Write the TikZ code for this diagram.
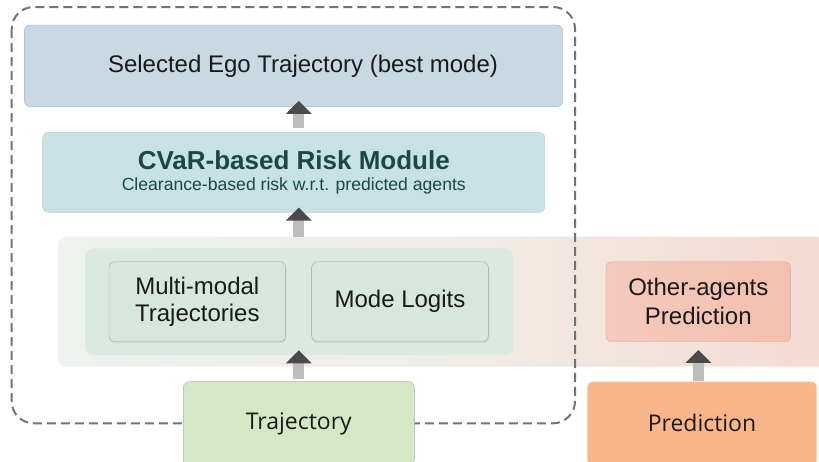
\documentclass[tikz,border=0pt]{standalone}
\usepackage{fontspec}
\setmainfont{Liberation Sans}
\newfontfamily\uifont{Open Sans}
\usepackage[]{tikz}
\usetikzlibrary{positioning}
\usetikzlibrary{arrows.meta}
\usetikzlibrary{shadows}
\definecolor{egoblue}{HTML}{C9D9E3}
\definecolor{egoline}{HTML}{A9B5BF}
\definecolor{riskteal}{HTML}{C8E2E4}
\definecolor{riskline}{HTML}{B3D0D3}
\definecolor{risktext}{HTML}{1C4747}
\definecolor{bandleft}{HTML}{EEF3EF}
\definecolor{bandmid}{HTML}{EFEDE7}
\definecolor{bandright}{HTML}{F6DAD0}
\definecolor{groupgreen}{HTML}{DBE9E0}
\definecolor{modgreen}{HTML}{D6E7DD}
\definecolor{modline}{HTML}{9DA9A1}
\definecolor{agentleft}{HTML}{F4CABD}
\definecolor{agentright}{HTML}{F4BFAE}
\definecolor{agentline}{HTML}{D0ABA2}
\definecolor{trajgreen}{HTML}{D5E8C6}
\definecolor{trajline}{HTML}{A8B7A0}
\definecolor{predorange}{HTML}{FBB58B}
\definecolor{dashgray}{HTML}{6E747C}
\definecolor{shaftgray}{HTML}{BDBDBD}
\definecolor{headgray}{HTML}{4A4A4A}
\tikzset{box/.style={rounded corners=6pt,inner sep=0pt,align=center,text=black!90}}
\tikzset{module/.style={box,draw=modline,fill=modgreen,minimum width=176.7pt,minimum height=80pt,
  font=\fontsize{24}{27}\selectfont,drop shadow={opacity=0.12,shadow xshift=1pt,shadow yshift=-1.5pt}}}
\tikzset{upflow/.style={line width=11pt,draw=shaftgray,-{Triangle[length=13pt,width=25pt,color=headgray]}}}

\begin{document}
\begin{tikzpicture}[x=1pt,y=-1pt]
            \useasboundingbox (0,0) rectangle (819,461);
            % output band and groups
            \node[box,rounded corners=8pt,draw=black!5,left color=bandleft,right color=bandright,middle color=bandmid,
                minimum width=771.7pt,minimum height=130pt] (band) at (444.2,301.7) {};
            \node[box,rounded corners=8pt,fill=groupgreen,minimum width=428.3pt,minimum height=106.7pt] (group) at (299.2,301.7) {};
            % ego planner frame
            \draw[dashgray,line width=2pt,dash pattern=on 9pt off 5pt,rounded corners=22pt] (11.7,7) rectangle (575,423.3);
            \node[box,draw=egoline,fill=egoblue,minimum width=538.4pt,minimum height=81.7pt,
                font=\fontsize{24}{28}\selectfont] (best) at (293.5,65.8) {\hspace*{19pt}Selected Ego Trajectory (best mode)};
            \node[box,draw=riskline,fill=riskteal,minimum width=502.3pt,minimum height=80pt,text=risktext] (risk) at (293.8,172.3)
                {\raisebox{-3pt}{\begin{tabular}{@{}c@{}}
                 {\fontsize{26}{26}\selectfont\bfseries CVaR-based Risk Module}\\[5pt]
                 {\fontsize{17.6}{20}\selectfont Clearance-based risk w.r.t. predicted agents}\end{tabular}}};
            \node[module] (modes) at (197.3,301.7) {Multi-modal\\Trajectories};
            \node[module] (logits) at (400,301.7) {Mode Logits};
            \node[box,draw=agentline,left color=agentleft,right color=agentright,minimum width=184.7pt,minimum height=80pt,
                font=\fontsize{24}{28.6}\selectfont] (agents) at (698.3,301.7) {Other-agents\\Prediction};
            \node[box,draw=trajline,fill=trajgreen,minimum width=231pt,minimum height=84.3pt,
                font=\uifont\fontsize{23}{28}\selectfont] (traj) at (298.8,423.8) {\raisebox{2pt}{Trajectory}};
            \node[box,fill=predorange,minimum width=229.4pt,minimum height=84.3pt,
                font=\uifont\fontsize{23}{28}\selectfont] (pred) at (702,423.8) {\raisebox{2pt}{Prediction}};
            % flow arrows
            \draw[upflow] ([yshift=2pt]traj.north) -- ([yshift=5pt]traj.north |- group.south);
            \draw[upflow] (agents.south |- pred.north) -- ([yshift=-8pt]agents.south);
            \draw[upflow] (traj.north |- band.north) -- ([yshift=5pt]traj.north |- risk.south);
            \draw[upflow] ([yshift=4pt]traj.north |- risk.north) -- ([yshift=6pt]traj.north |- best.south);
        \end{tikzpicture}
\end{document}
